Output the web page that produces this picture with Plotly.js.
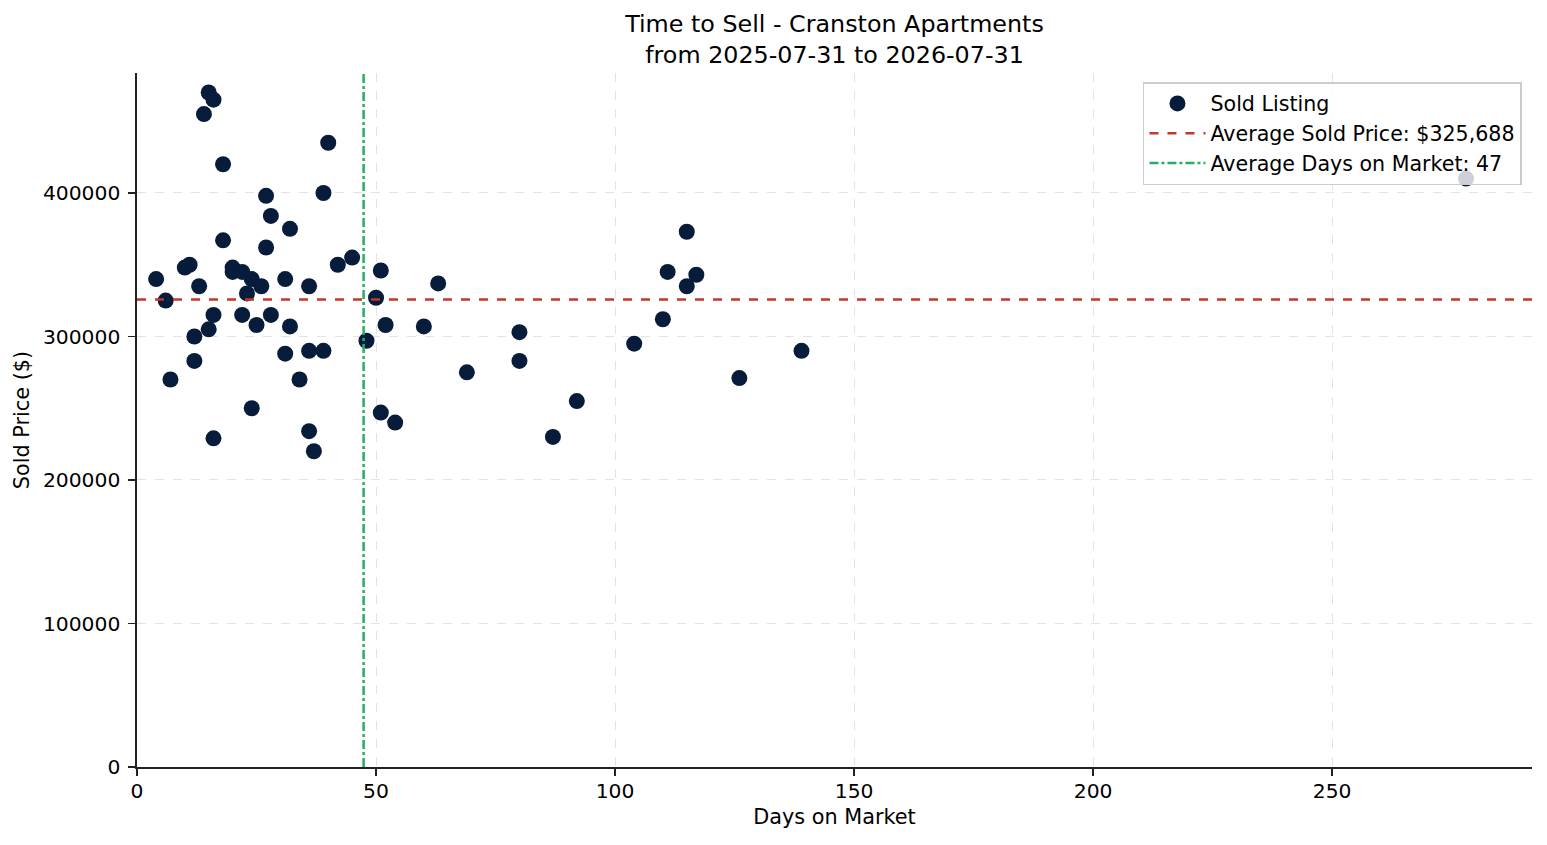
<!DOCTYPE html>
<html>
<head>
<meta charset="utf-8">
<script src="https://cdn.plot.ly/plotly-3.0.1.min.js"></script>
<style>
  html, body { margin: 0; padding: 0; background: #fff; }
  #chart { width: 1547px; height: 845px; }
</style>
</head>
<body>
<div id="chart"></div>
<script>
// days on market for each sold listing
const daysOnMarket = [
  4, 6, 7, 10, 11, 12, 12, 13, 14, 15, 16, 15, 16, 16, 18, 18, 20, 20, 22, 22,
  23, 24, 24, 25, 26, 27, 27, 28, 28, 31, 31, 32, 32, 34, 36, 36, 36, 37, 39, 39,
  40, 42, 45, 48, 50, 51, 51, 52, 54, 60, 63, 69, 80, 80, 87, 92, 104, 110, 111, 115,
  115, 117, 126, 139, 278
];

// sold price for each listing, same order
const soldPrice = [
  340000, 325000, 270000, 348000, 350000, 283000, 300000, 335000, 455000, 470000,
  465000, 305000, 315000, 229000, 420000, 367000, 348000, 345000, 345000, 315000,
  330000, 340000, 250000, 308000, 335000, 398000, 362000, 384000, 315000, 340000,
  288000, 375000, 307000, 270000, 335000, 290000, 234000, 220000, 400000, 290000,
  435000, 350000, 355000, 297000, 327000, 346000, 247000, 308000, 240000, 307000,
  337000, 275000, 303000, 283000, 230000, 255000, 295000, 312000, 345000, 373000,
  335000, 343000, 271000, 290000, 410000
];

const avgPrice = 325688;
const avgDays = 47.4;

const xRange = [0, 291.8];
const yRange = [0, 483600];

const xTicks = [0, 50, 100, 150, 200, 250];
const yTicks = [0, 100000, 200000, 300000, 400000];

const FONT = "DejaVu Sans, sans-serif";

const traces = [
  {
    x: daysOnMarket,
    y: soldPrice,
    type: "scatter",
    mode: "markers",
    name: "Sold Listing",
    marker: { color: "#061c3a", size: 16, line: { width: 0 } },
  },
  {
    x: xRange,
    y: [avgPrice, avgPrice],
    type: "scatter",
    mode: "lines",
    name: "Average Sold Price: $325,688",
    line: { color: "#c0392b", width: 2.5, dash: "dash" },
  },
  {
    x: [avgDays, avgDays],
    y: yRange,
    type: "scatter",
    mode: "lines",
    name: "Average Days on Market: 47",
    line: { color: "#27ae60", width: 2.5, dash: "dashdot" },
  },
];

const axisCommon = {
  showline: true,
  linecolor: "#222",
  linewidth: 1.6,
  ticks: "outside",
  ticklen: 7,
  tickwidth: 1.6,
  tickcolor: "#222",
  tickfont: { family: FONT, size: 20.3, color: "#000" },
  showgrid: true,
  gridcolor: "#dcdcdc",
  gridwidth: 0.8,
  griddash: "dash",
  zeroline: false,
  mirror: false,
};

const layout = {
  width: 1547,
  height: 845,
  paper_bgcolor: "#fff",
  plot_bgcolor: "#fff",
  margin: { l: 137, r: 15, t: 73, b: 78 },
  font: { family: FONT, color: "#000" },
  title: {
    text: "Time to Sell - Cranston Apartments<br>from 2025-07-31 to 2026-07-31",
    font: { family: FONT, size: 23.8, color: "#000" },
    xref: "paper",
    x: 0.5,
    xanchor: "center",
    y: 0.962,
    yanchor: "top",
  },
  xaxis: Object.assign({}, axisCommon, {
    range: xRange,
    tickvals: xTicks,
    ticklabelstandoff: -2,
    title: { text: "Days on Market", font: { family: FONT, size: 20.8, color: "#000" }, standoff: 7 },
  }),
  yaxis: Object.assign({}, axisCommon, {
    range: yRange,
    tickvals: yTicks,
    tickformat: "d",
    ticklabelstandoff: 4,
    title: { text: "Sold Price ($)", font: { family: FONT, size: 20.8, color: "#000" }, standoff: 7 },
  }),
  legend: {
    x: 0.9928,
    xanchor: "right",
    y: 0.987,
    yanchor: "top",
    bgcolor: "rgba(255,255,255,0.8)",
    bordercolor: "#cccccc",
    borderwidth: 1.5,
    itemwidth: 56,
    font: { family: FONT, size: 20.6, color: "#000" },
  },
  showlegend: true,
};

Plotly.newPlot("chart", traces, layout, { displayModeBar: false, staticPlot: true });
</script>
</body>
</html>
